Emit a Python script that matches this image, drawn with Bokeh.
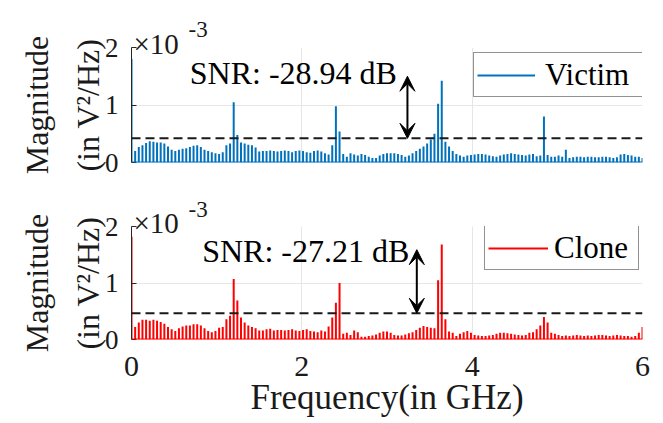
import numpy as np
from bokeh.plotting import figure
from bokeh.layouts import column
from bokeh.models import (Range1d, FixedTicker, Span, Label, Legend, Arrow,
                          VeeHead, ColumnDataSource)
from bokeh.embed import file_html
from bokeh.resources import INLINE

# ---------------- data (magnitudes in units of 1e-3 V^2/Hz) ----------------
n_bins = 141
freq_ghz = np.linspace(0.0, 6.0, n_bins)

victim = [
    1.80, 0.20, 0.27, 0.30, 0.34, 0.37, 0.36, 0.35, 0.35, 0.33,
    0.28, 0.22, 0.20, 0.22, 0.24, 0.25, 0.27, 0.29, 0.30, 0.27,
    0.22, 0.20, 0.18, 0.16, 0.15, 0.18, 0.30, 0.33, 1.05, 0.48,
    0.35, 0.33, 0.31, 0.30, 0.26, 0.19, 0.20, 0.20, 0.21, 0.20,
    0.19, 0.20, 0.21, 0.20, 0.18, 0.20, 0.21, 0.20, 0.18, 0.17,
    0.20, 0.21, 0.19, 0.16, 0.14, 0.30, 0.98, 0.54, 0.15, 0.10,
    0.16, 0.14, 0.12, 0.15, 0.13, 0.10, 0.08, 0.08, 0.12, 0.15,
    0.16, 0.16, 0.16, 0.15, 0.13, 0.10, 0.12, 0.16, 0.20, 0.24,
    0.28, 0.33, 0.40, 0.50, 1.02, 1.42, 0.36, 0.28, 0.20, 0.15,
    0.12, 0.10, 0.12, 0.13, 0.14, 0.15, 0.15, 0.14, 0.12, 0.11,
    0.10, 0.12, 0.14, 0.15, 0.16, 0.15, 0.14, 0.13, 0.12, 0.14,
    0.15, 0.11, 0.12, 0.80, 0.13, 0.10, 0.10, 0.12, 0.10, 0.22,
    0.08, 0.09, 0.10, 0.10, 0.09, 0.10, 0.10, 0.09, 0.09, 0.10,
    0.10, 0.09, 0.08, 0.09, 0.14, 0.15, 0.13, 0.12, 0.10, 0.10,
    0.08,
]

clone = [
    1.82, 0.22, 0.30, 0.35, 0.35, 0.33, 0.35, 0.33, 0.31, 0.28,
    0.22, 0.18, 0.15, 0.20, 0.23, 0.25, 0.25, 0.27, 0.27, 0.25,
    0.20, 0.15, 0.13, 0.15, 0.21, 0.22, 0.36, 0.42, 1.07, 0.69,
    0.39, 0.30, 0.25, 0.22, 0.20, 0.16, 0.16, 0.18, 0.19, 0.16,
    0.17, 0.17, 0.16, 0.17, 0.18, 0.16, 0.15, 0.17, 0.18, 0.15,
    0.14, 0.13, 0.16, 0.14, 0.23, 0.39, 0.65, 1.00, 0.10, 0.12,
    0.08, 0.16, 0.13, 0.05, 0.05, 0.06, 0.07, 0.09, 0.12, 0.14,
    0.14, 0.12, 0.08, 0.07, 0.07, 0.09, 0.11, 0.13, 0.17, 0.21,
    0.24, 0.22, 0.21, 0.20, 1.05, 1.68, 0.36, 0.14, 0.12, 0.06,
    0.10, 0.13, 0.15, 0.12, 0.08, 0.07, 0.06, 0.06, 0.07, 0.08,
    0.10, 0.12, 0.12, 0.11, 0.10, 0.09, 0.08, 0.07, 0.08, 0.12,
    0.13, 0.18, 0.25, 0.40, 0.30, 0.12, 0.10, 0.08, 0.06, 0.07,
    0.06, 0.07, 0.08, 0.07, 0.06, 0.07, 0.06, 0.07, 0.08, 0.08,
    0.07, 0.06, 0.07, 0.08, 0.07, 0.06, 0.06, 0.05, 0.06, 0.12,
    0.22,
]

series_names = ["Victim", "Clone"]
series_colors = ["#0072BD", "#FF0000"]
snr_texts = ["SNR: -28.94 dB", "SNR: -27.21 dB"]
threshold = [0.42, 0.465]          # dashed reference level (x1e-3)
arrow_x = [3.24, 3.35]             # GHz
arrow_top = [1.50, 1.59]           # x1e-3
snr_pos = [(0.684, 1.557), (0.83, 1.564)]
x_ticks = [0, 2, 4, 6]
y_ticks = [0, 1, 2]
x_label = "Frequency(in GHz)"
y_label_1 = "Magnitude"
y_label_2 = "(in V\u00b2/Hz)"

FONT = "Liberation Serif"
TXT = "#1a1a1a"
PPX = 511.0 / 6.0


def make_panel(values, idx, height, top, bottom, show_x, legend_cfg, ppu):
    p = figure(width=663, height=height, x_range=Range1d(0, 6),
               y_range=Range1d(0, 2), output_backend="svg",
               toolbar_location=None, title=None,
               min_border_left=131, min_border_right=21,
               min_border_top=top, min_border_bottom=bottom)
    p.outline_line_color = None
    p.background_fill_color = "white"
    p.border_fill_color = "white"

    # grid
    p.xgrid.ticker = FixedTicker(ticks=x_ticks)
    p.ygrid.ticker = FixedTicker(ticks=y_ticks)
    for g in (p.xgrid, p.ygrid):
        g.grid_line_color = "#e6e6e6"
        g.grid_line_width = 1

    # y axis
    p.yaxis.ticker = FixedTicker(ticks=y_ticks)
    p.yaxis.major_label_overrides = {0: "0", 1: "1", 2: "2"}
    p.yaxis.axis_line_color = "#262626"
    p.yaxis.major_tick_line_color = "#262626"
    p.yaxis.major_tick_in = 5
    p.yaxis.major_tick_out = 0
    p.yaxis.minor_tick_line_color = None
    p.yaxis.major_label_standoff = 13
    p.yaxis.major_label_text_font = FONT
    p.yaxis.major_label_text_font_size = "27px"
    p.yaxis.major_label_text_color = TXT

    # x axis
    p.xaxis.ticker = FixedTicker(ticks=x_ticks)
    p.xaxis.major_label_overrides = {0: "0", 2: "2", 4: "4", 6: "6"}
    if show_x:
        p.xaxis.axis_line_color = None
        p.xaxis.major_tick_line_color = None
        p.xaxis.minor_tick_line_color = None
        p.xaxis.major_label_standoff = 11
        p.xaxis.major_label_text_font = FONT
        p.xaxis.major_label_text_font_size = "30px"
        p.xaxis.major_label_text_color = TXT
    else:
        p.xaxis.visible = False

    color = series_colors[idx]
    src = ColumnDataSource(dict(f=freq_ghz, zero=np.zeros(n_bins), v=values))
    r = p.segment(x0="f", y0="zero", x1="f", y1="v", source=src,
                  line_color=color, line_width=2)
    p.add_layout(Span(location=0, dimension="width", line_color=color,
                      line_width=2))

    # threshold dashed line
    p.add_layout(Span(location=threshold[idx], dimension="width",
                      line_color="#1a1a1a", line_width=2, line_dash="9 5"))

    # double arrow
    p.add_layout(Arrow(x_start=arrow_x[idx], y_start=threshold[idx],
                       x_end=arrow_x[idx], y_end=arrow_top[idx],
                       line_color="black", line_width=2,
                       start=VeeHead(size=15, fill_color="black",
                                     line_color="black"),
                       end=VeeHead(size=15, fill_color="black",
                                   line_color="black")))

    # SNR text
    p.add_layout(Label(x=snr_pos[idx][0], y=snr_pos[idx][1],
                       text=snr_texts[idx], text_font=FONT,
                       text_font_size="32px", text_color="black",
                       text_baseline="middle", text_align="left"))

    # y labels (two lines, rotated) -- placed in the left side panel
    for txt, xs in ((y_label_1, 36), (y_label_2, 87)):
        p.add_layout(Label(x=(xs - 131) / PPX, y=1.0, text=txt,
                           angle=np.pi / 2, text_font=FONT,
                           text_font_size="32px", text_color=TXT,
                           text_align="center", text_baseline="middle"),
                     "left")

    # exponent label x10^-3 -- placed in the top side panel
    p.add_layout(Label(x=2 / PPX, y=2 + 4 / ppu, text="\u00d710",
                       text_font=FONT, text_font_size="29px",
                       text_line_height=1.0,
                       text_color=TXT, text_baseline="alphabetic"), "above")
    p.add_layout(Label(x=57 / PPX, y=2 + 18 / ppu, text="-3",
                       text_font=FONT, text_font_size="23px",
                       text_line_height=1.0,
                       text_color=TXT, text_baseline="alphabetic"), "above")

    lx, ly, gw, ls, lw = legend_cfg
    legend = Legend(items=[(series_names[idx], [r])], location=(lx, ly))
    legend.border_line_color = "#262626"
    legend.border_line_width = 1
    legend.background_fill_color = "white"
    legend.background_fill_alpha = 1.0
    legend.label_text_font = FONT
    legend.label_text_font_size = "31px"
    legend.label_text_color = "black"
    legend.glyph_width = gw
    legend.glyph_height = 30
    legend.label_height = 37
    legend.label_width = lw
    legend.label_standoff = ls
    legend.padding = 3
    legend.margin = 0
    legend.spacing = 0
    p.add_layout(legend, "center")
    return p


p1 = make_panel(victim, 0, height=179, top=46, bottom=17, show_x=False,
                legend_cfg=(342, 65, 58, 10, 94), ppu=58.0)
p2 = make_panel(clone, 1, height=244, top=40, bottom=84, show_x=True,
                legend_cfg=(353, 69, 60, 6, 81), ppu=59.8)

p2.add_layout(Label(x=3.0, y=-61 / 59.8, text=x_label, text_font=FONT,
                    text_font_size="35px", text_color=TXT,
                    text_align="center", text_baseline="middle"), "below")

layout = column(p1, p2, spacing=0)
open("out.html", "w").write(file_html(layout, INLINE))
